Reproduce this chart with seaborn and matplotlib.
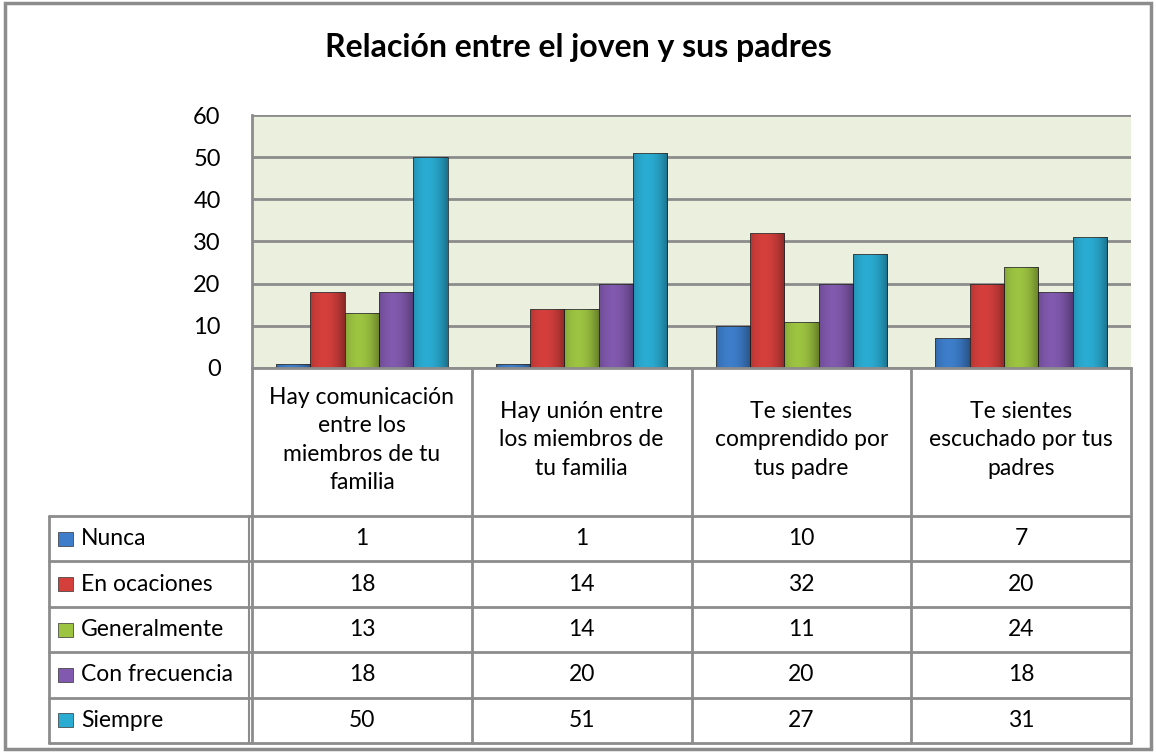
import numpy as np
import pandas as pd
import matplotlib
matplotlib.use("Agg")
import matplotlib.pyplot as plt
import seaborn as sns

# data
categorias = [
    "Hay comunicación\nentre los\nmiembros de tu\nfamilia",
    "Hay unión entre\nlos miembros de\ntu familia",
    "Te sientes\ncomprendido por\ntus padre",
    "Te sientes\nescuchado por tus\npadres",
]
series = ["Nunca", "En ocaciones", "Generalmente", "Con frecuencia", "Siempre"]
nunca = [1, 1, 10, 7]
en_ocaciones = [18, 14, 32, 20]
generalmente = [13, 14, 11, 24]
con_frecuencia = [18, 20, 20, 18]
siempre = [50, 51, 27, 31]
colores = ["#3D7DCA", "#D43F3C", "#9DC441", "#8159AE", "#2AACD2"]

valores = [nunca, en_ocaciones, generalmente, con_frecuencia, siempre]
df = pd.DataFrame(
    [(c, s, v) for s, vals in zip(series, valores) for c, v in zip(categorias, vals)],
    columns=["categoria", "serie", "valor"],
)

sns.set_style("white")
FONT = ["Lato", "DejaVu Sans"]
plt.rcParams["font.family"] = FONT
plt.rcParams["text.color"] = "black"
plt.rcParams["ytick.color"] = "black"

W, H = 1156, 752
PL, PR, PT, PB = 252, 1131, 115, 368
TL, TT, ROW = 49, 516, 45.4
GRID = "#8C8C8C"
FS = 16.5

fig = plt.figure(figsize=(W / 100, H / 100), dpi=100)

# table / frame layer in pixel coordinates
ax_t = fig.add_axes([0, 0, 1, 1])
ax_t.set_xlim(0, W)
ax_t.set_ylim(H, 0)
ax_t.axis("off")

ax = fig.add_axes([PL / W, 1 - PB / H, (PR - PL) / W, (PB - PT) / H])
sns.barplot(data=df, x="categoria", y="valor", hue="serie", palette=colores,
            width=0.78, ax=ax, legend=False, saturation=1,
            edgecolor="#333333", linewidth=0.6)
ax.set_facecolor("#EBEFDD")
ax.set_ylim(0, 60)
ax.set_xlim(-0.5, len(categorias) - 0.5)
ax.set_yticks(range(0, 61, 10))
ax.yaxis.grid(True, color=GRID, lw=2)
ax.set_axisbelow(True)
ax.set_xticklabels([])
ax.set_xlabel("")
ax.set_ylabel("")
ax.tick_params(left=False, bottom=False, labelsize=17, pad=19)
for sp in ["top", "right"]:
    ax.spines[sp].set_visible(False)
for sp in ["left", "bottom"]:
    ax.spines[sp].set_color(GRID)
    ax.spines[sp].set_linewidth(2)

# simple shading on bars
grad = np.linspace(0, 1, 64)
shade = np.zeros((1, 64, 4))
shade[0, :, 3] = 0.35 * (np.abs(grad - 0.4) / 0.6) ** 2
for p in ax.patches:
    x0, y0 = p.get_x(), p.get_y()
    w, h = p.get_width(), p.get_height()
    if h <= 0:
        continue
    im = ax.imshow(shade, extent=[x0, x0 + w, y0, y0 + h], aspect="auto",
                   zorder=p.get_zorder() + 0.1, interpolation="bilinear")
    im.set_clip_path(p)

fig.text(0.5, 1 - 48 / H, "Relación entre el joven y sus padres", ha="center", va="center",
         fontsize=23, fontweight="bold", color="black")

# outer frame
ax_t.add_patch(plt.Rectangle((5, 3), 1146, 746, fill=False, ec=GRID, lw=2.5))

# category label band and table grid
colw = (PR - PL) / len(categorias)
nrows = len(series)
TB = TT + ROW * nrows
for i in range(len(categorias) + 1):
    x = PL + i * colw
    ax_t.plot([x, x], [PB, TB], color=GRID, lw=2)
ax_t.plot([TL, TL], [TT, TB], color=GRID, lw=2)
ax_t.plot([PL - 3, PL - 3], [TT, TB], color=GRID, lw=1.5)
for r in range(nrows + 1):
    y = TT + r * ROW
    ax_t.plot([TL, PR], [y, y], color=GRID, lw=2)

for i, c in enumerate(categorias):
    ax_t.text(PL + (i + 0.5) * colw, (PB + TT) / 2 - 2, c, ha="center", va="center",
              fontsize=FS, linespacing=1.45)

for r, (s, vals, col) in enumerate(zip(series, valores, colores)):
    yc = TT + (r + 0.5) * ROW
    ax_t.add_patch(plt.Rectangle((58, yc - 7), 15, 14, fc=col, ec="#333333", lw=0.5))
    ax_t.text(81, yc, s, ha="left", va="center", fontsize=FS)
    for i, v in enumerate(vals):
        ax_t.text(PL + (i + 0.5) * colw, yc, str(v), ha="center", va="center",
                  fontsize=FS)

fig.savefig("out.png", dpi=100)
